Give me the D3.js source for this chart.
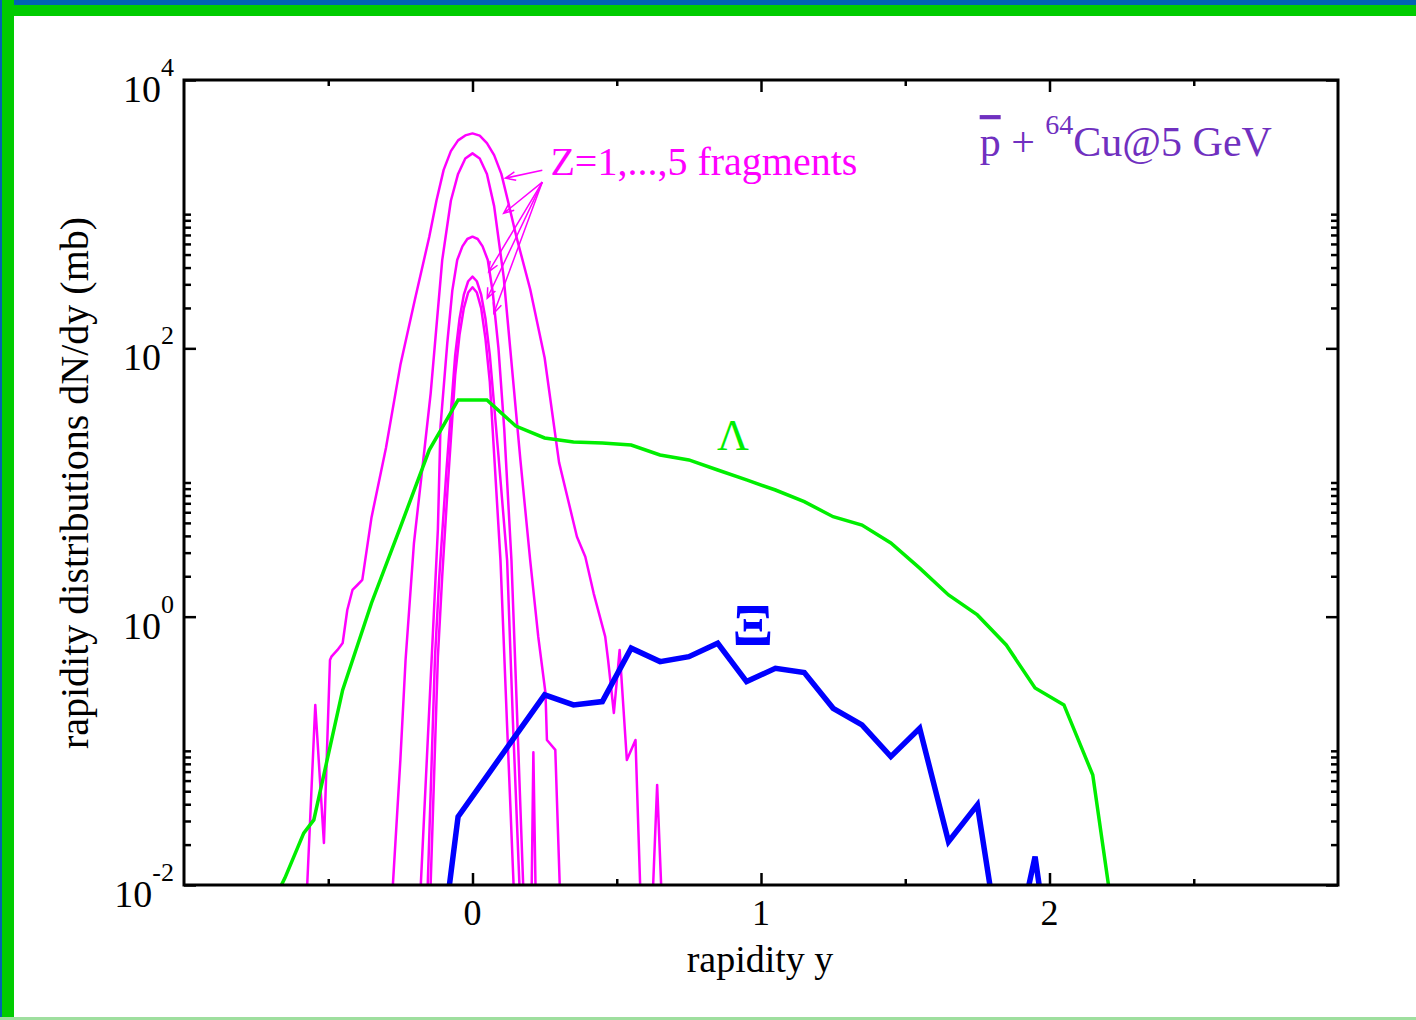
<!DOCTYPE html>
<html>
<head>
<meta charset="utf-8">
<script src="https://cdn.jsdelivr.net/npm/d3@7"></script>
<style>
  body { margin: 0; background: #fff; }
  text { font-family: "Liberation Serif", "Times New Roman", serif; }
</style>
</head>
<body>
<div id="chart-area"></div>
<script>
// [rapidity, log10(dN/dy in mb)]
const fragZ1 = [[-0.575,-2.1],[-0.545,-0.658],[-0.515,-1.687],[-0.494,-0.323],[-0.489,-0.298],[-0.468,-0.248],
  [-0.45,-0.196],[-0.434,0.05],[-0.416,0.199],[-0.399,0.236],[-0.382,0.274],[-0.35,0.74],[-0.3,1.257],
  [-0.25,1.875],[-0.2,2.36],[-0.15,2.83],[-0.125,3.1],[-0.1,3.33],[-0.075,3.47],[-0.05,3.55],[-0.025,3.587],
  [0,3.602],[0.025,3.585],[0.05,3.53],[0.075,3.44],[0.1,3.30],[0.125,3.08],[0.15,2.85],[0.2,2.44],[0.25,1.93],
  [0.3,1.15],[0.362,0.596],[0.391,0.447],[0.42,0.174],[0.46,-0.149],[0.47,-0.323],[0.49,-0.718],[0.51,-0.248],
  [0.535,-1.068],[0.565,-0.919],[0.59,-2.6],[0.615,-2.6],[0.64,-1.254],[0.665,-2.6]];
const fragZ2 = [[-0.3,-2.86],[-0.25,-1.067],[-0.232,-0.323],[-0.203,0.547],[-0.168,1.218],[-0.145,1.665],
  [-0.105,2.657],[-0.075,3.1],[-0.05,3.30],[-0.025,3.415],[0,3.453],[0.025,3.415],[0.05,3.30],[0.075,3.06],
  [0.108,2.533],[0.166,1.168],[0.2,0.42],[0.228,-0.151],[0.253,-0.569],[0.258,-0.919],[0.287,-0.993],[0.31,-2.5]];
const fragZ3 = [[-0.2,-2.93],[-0.12,0.65],[-0.111,1.416],[-0.0875,2.037],[-0.07,2.43],[-0.053,2.658],
  [-0.035,2.76],[-0.018,2.815],[0,2.832],[0.018,2.815],[0.035,2.76],[0.053,2.658],[0.07,2.42],[0.09,2.0],
  [0.11,1.4],[0.135,0.42],[0.15,-0.46],[0.19,-2.86],[0.2,-2.9],[0.211,-1.01],[0.225,-2.9]];
const fragZ4 = [[-0.17,-3],[-0.13,-0.3],[-0.115,0.3],[-0.09,1.1],[-0.06,1.95],[-0.045,2.22],[-0.03,2.4],
  [-0.015,2.5],[0,2.534],[0.015,2.5],[0.03,2.4],[0.045,2.22],[0.06,1.95],[0.09,1.2],[0.12,0.42],[0.14,-0.776],
  [0.18,-2.93]];
const fragZ5 = [[-0.16,-3],[-0.12,-0.3],[-0.105,0.3],[-0.085,1.0],[-0.06,1.8],[-0.045,2.1],[-0.03,2.3],
  [-0.015,2.416],[0,2.455],[0.015,2.416],[0.03,2.3],[0.045,2.07],[0.06,1.75],[0.097,0.42],[0.12,-0.817],
  [0.16,-2.93]];
const lambda = [[-0.75,-2.38],[-0.65,-1.947],[-0.585,-1.613],[-0.55,-1.515],[-0.45,-0.546],[-0.35,0.102],
  [-0.25,0.668],[-0.15,1.242],[-0.11,1.39],[-0.05,1.615],[0.05,1.615],[0.15,1.421],[0.25,1.332],[0.35,1.302],
  [0.45,1.294],[0.55,1.279],[0.65,1.205],[0.75,1.168],[0.85,1.093],[0.95,1.019],[1.05,0.944],[1.15,0.857],
  [1.25,0.745],[1.35,0.683],[1.45,0.549],[1.55,0.362],[1.65,0.162],[1.75,0.013],[1.85,-0.211],[1.95,-0.531],
  [2.05,-0.658],[2.15,-1.18],[2.25,-2.685]];
const xi = [[-0.15,-3.19],[-0.05,-1.491],[0.05,-1.188],[0.15,-0.885],[0.25,-0.583],[0.35,-0.658],[0.45,-0.633],
  [0.55,-0.235],[0.65,-0.335],[0.75,-0.298],[0.85,-0.198],[0.95,-0.484],[1.05,-0.385],[1.15,-0.417],
  [1.25,-0.683],[1.35,-0.807],[1.45,-1.043],[1.55,-0.832],[1.65,-1.677],[1.75,-1.403],[1.85,-2.78],
  [1.95,-1.788],[2.05,-3.3]];

const xTicksMajor = [0, 1, 2];
const xTicksMinor = [-0.5, 0.5, 1.5, 2.5];
const yExponents = [-2, 0, 2, 4];
const minorFactors = [2, 3, 4, 5, 6, 7, 8, 9, 10];

// label anchors, [rapidity, log10 value]
const arrowFrom = [[0.242, 3.328], [0.242, 3.239], [0.242, 3.239], [0.242, 3.239], [0.242, 3.239]];
const arrowTo = [[0.114, 3.268], [0.108, 3.006], [0.056, 2.571], [0.051, 2.373], [0.074, 2.261]];
const fragLabelAt = [0.27, 3.291];
const lambdaLabelAt = [0.903, 1.242];
const xiLabelAt = [0.972, -0.211];
const titleAt = [1.758, 3.433];

const chart = { width: 1416, height: 1020 };
const frame = { left: 184, right: 1338, top: 80, bottom: 885 };

const svg = d3.select("#chart-area").append("svg")
  .attr("width", chart.width).attr("height", chart.height);

// page border
svg.append("rect").attr("x", 0).attr("y", 0).attr("width", chart.width).attr("height", 5).attr("fill", "#0063b4");
svg.append("rect").attr("x", 0).attr("y", 5).attr("width", chart.width).attr("height", 11).attr("fill", "#00cc00");
svg.append("rect").attr("x", 0).attr("y", 0).attr("width", 14).attr("height", chart.height).attr("fill", "#00cc00");
svg.append("rect").attr("x", 0).attr("y", 0).attr("width", 2).attr("height", chart.height).attr("fill", "#0063b4");
svg.append("rect").attr("x", 0).attr("y", 1017).attr("width", chart.width).attr("height", 3).attr("fill", "#9fdf9f");

const x = d3.scaleLinear().domain([-1, 3]).range([frame.left, frame.right]);
const y = d3.scaleLog().domain([1e-2, 1e4]).range([frame.bottom, frame.top]);
const px = d => x(d[0]);
const py = d => y(Math.pow(10, d[1]));

svg.append("clipPath").attr("id", "plot-clip").append("rect")
  .attr("x", frame.left).attr("y", frame.top)
  .attr("width", frame.right - frame.left).attr("height", frame.bottom - frame.top);

const plot = svg.append("g").attr("clip-path", "url(#plot-clip)");
const line = d3.line().x(px).y(py);

[fragZ1, fragZ2, fragZ3, fragZ4, fragZ5].forEach(s => {
  plot.append("path").datum(s).attr("d", line)
    .attr("fill", "none").attr("stroke", "#ff00ff").attr("stroke-width", 2.5)
    .attr("stroke-linejoin", "round");
});
plot.append("path").datum(lambda).attr("d", line)
  .attr("fill", "none").attr("stroke", "#00ee00").attr("stroke-width", 3.5);
plot.append("path").datum(xi).attr("d", line)
  .attr("fill", "none").attr("stroke", "#0000ff").attr("stroke-width", 5.5);

// axes (ticks point inward)
const yMinor = yExponents.slice(0, -1).flatMap(e => minorFactors.map(f => f * Math.pow(10, e)));
const yMajor = yExponents.map(e => Math.pow(10, e));
const addAxis = (axis, tx, ty) => {
  const g = svg.append("g").attr("transform", `translate(${tx},${ty})`).call(axis);
  g.select(".domain").remove();
  g.selectAll("line").attr("stroke", "#000").attr("stroke-width", 2.5);
  g.selectAll("text").remove();
};
addAxis(d3.axisBottom(x).tickValues(xTicksMajor).tickSize(-12), 0, frame.bottom);
addAxis(d3.axisBottom(x).tickValues(xTicksMinor).tickSize(-6), 0, frame.bottom);
addAxis(d3.axisTop(x).tickValues(xTicksMajor).tickSize(-12), 0, frame.top);
addAxis(d3.axisTop(x).tickValues(xTicksMinor).tickSize(-6), 0, frame.top);
addAxis(d3.axisLeft(y).tickValues(yMajor).tickSize(-12), frame.left, 0);
addAxis(d3.axisLeft(y).tickValues(yMinor).tickSize(-7), frame.left, 0);
addAxis(d3.axisRight(y).tickValues(yMajor).tickSize(-12), frame.right, 0);
addAxis(d3.axisRight(y).tickValues(yMinor).tickSize(-7), frame.right, 0);

svg.append("rect")
  .attr("x", frame.left).attr("y", frame.top)
  .attr("width", frame.right - frame.left).attr("height", frame.bottom - frame.top)
  .attr("fill", "none").attr("stroke", "#000").attr("stroke-width", 3);

// tick labels
svg.selectAll(".xlab").data(xTicksMajor).enter().append("text")
  .attr("x", d => x(d)).attr("y", frame.bottom + 40)
  .attr("text-anchor", "middle").attr("font-size", 36).text(d => d);

const ylab = svg.selectAll(".ylab").data(yExponents).enter().append("text")
  .attr("x", frame.left - 10).attr("y", d => y(Math.pow(10, d)) + 22)
  .attr("text-anchor", "end").attr("font-size", 38);
ylab.append("tspan").text("10");
ylab.append("tspan").attr("font-size", 26).attr("dy", -26).text(d => d);

// axis titles
svg.append("text").attr("x", 760).attr("y", 972)
  .attr("text-anchor", "middle").attr("font-size", 38).text("rapidity y");
svg.append("text").attr("transform", "translate(88,483) rotate(-90)")
  .attr("text-anchor", "middle").attr("font-size", 40).text("rapidity distributions dN/dy (mb)");

// annotations
svg.append("text").attr("x", px(fragLabelAt)).attr("y", py(fragLabelAt))
  .attr("font-size", 40).attr("fill", "#ff00ff").text("Z=1,...,5 fragments");
arrowTo.forEach((t, i) => {
  const x0 = px(arrowFrom[i]), y0 = py(arrowFrom[i]), x1 = px(t), y1 = py(t);
  const a = Math.atan2(y1 - y0, x1 - x0);
  svg.append("path")
    .attr("d", `M${x0},${y0}L${x1},${y1}` +
      `M${x1 - 11 * Math.cos(a - 0.4)},${y1 - 11 * Math.sin(a - 0.4)}L${x1},${y1}` +
      `L${x1 - 11 * Math.cos(a + 0.4)},${y1 - 11 * Math.sin(a + 0.4)}`)
    .attr("fill", "none").attr("stroke", "#ff00ff").attr("stroke-width", 1.5);
});

svg.append("text").attr("x", px(lambdaLabelAt)).attr("y", py(lambdaLabelAt))
  .attr("text-anchor", "middle").attr("font-size", 44).attr("fill", "#00ee00").text("Λ");
svg.append("text").attr("x", px(xiLabelAt)).attr("y", py(xiLabelAt))
  .attr("text-anchor", "middle").attr("font-size", 60).attr("font-weight", "bold")
  .attr("fill", "#0000ff").text("Ξ");

const title = svg.append("text").attr("x", px(titleAt)).attr("y", py(titleAt))
  .attr("font-size", 42).attr("fill", "#7030c0");
title.append("tspan").style("text-decoration", "overline").text("p");
title.append("tspan").text(" + ");
title.append("tspan").attr("font-size", 28).attr("dy", -22).text("64");
title.append("tspan").attr("dy", 22).text("Cu@5 GeV");
</script>
</body>
</html>
